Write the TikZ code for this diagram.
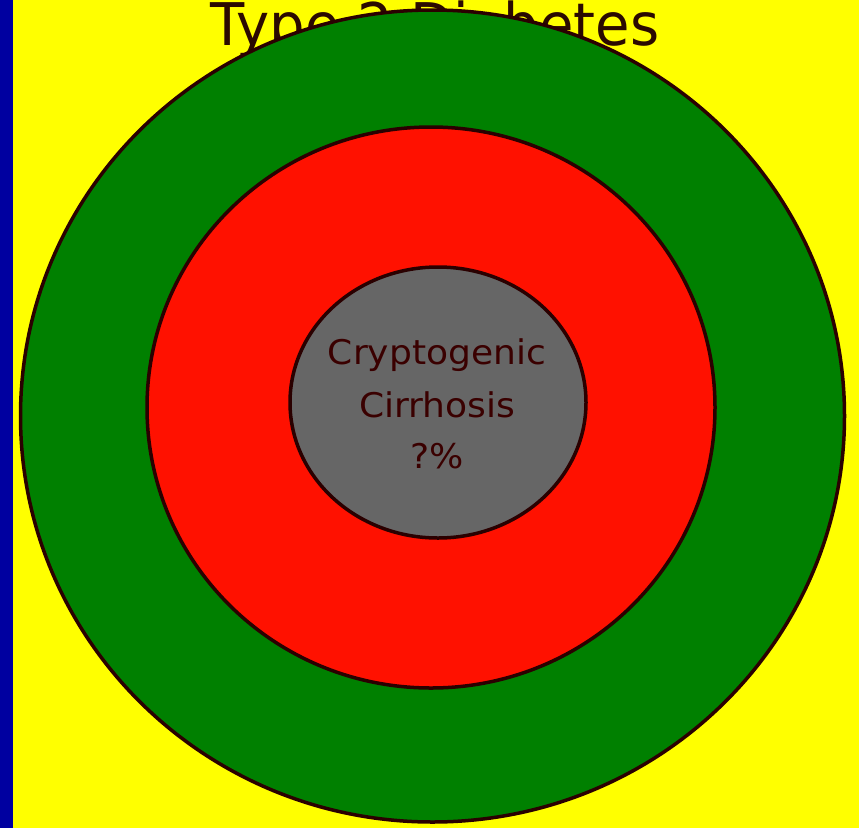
\documentclass[tikz,border=0pt]{standalone}
\usepackage{fontspec}
\setmainfont{DejaVu Sans}
\begin{document}
\begin{tikzpicture}[x=1pt,y=-1pt,
  ring/.style={draw=ringline,line width=3.5pt},
  titletext/.style={text=titlecol,font=\fontsize{56}{60}\selectfont,inner sep=0pt,anchor=base},
  coretext/.style={text=corecol,font=\fontsize{34}{38}\selectfont,inner sep=0pt,anchor=base}]
\definecolor{bgyellow}{HTML}{FFFF00}
\definecolor{bluebar}{HTML}{0000A0}
\definecolor{ringgreen}{HTML}{008000}
\definecolor{ringred}{HTML}{FF1100}
\definecolor{coregray}{HTML}{666666}
\definecolor{ringline}{HTML}{2A0000}
\definecolor{titlecol}{HTML}{2B0A00}
\definecolor{corecol}{HTML}{3A0000}
\useasboundingbox (0,0) rectangle (859,828);
\fill[bgyellow] (0,0) rectangle (859,828);
\fill[bluebar] (0,0) rectangle (13,828);
\node[titletext] (title) at (435,45) {\scalebox{1.0}[1.05]{Type 2 Diabetes}};
\draw[ring,fill=ringgreen] (432.5,416) ellipse [x radius=412, y radius=406];
\draw[ring,fill=ringred] (431,407.5) ellipse [x radius=284, y radius=280.5];
\draw[ring,fill=coregray] (438,402.5) ellipse [x radius=148, y radius=135.5];
\node[coretext] (l1) at (437,364) {\scalebox{1.06}[1]{Cryptogenic}};
\node[coretext] (l2) at (437,417) {\scalebox{1.06}[1]{Cirrhosis}};
\node[coretext] (l3) at (437,468) {\scalebox{1.06}[1]{?\%}};
\end{tikzpicture}
\end{document}
